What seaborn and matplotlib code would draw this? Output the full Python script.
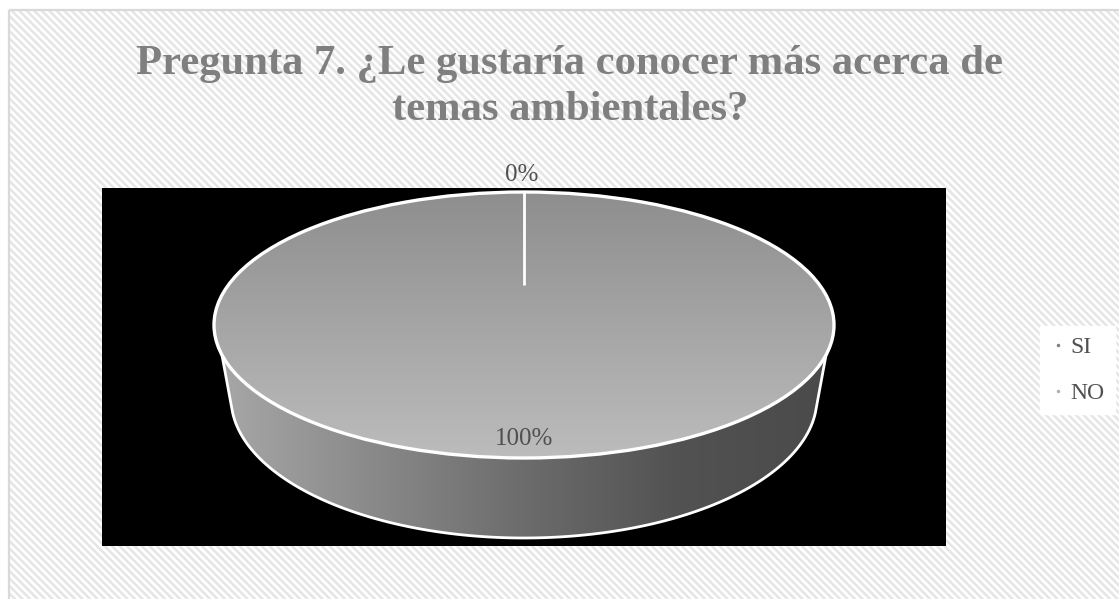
import numpy as np
import matplotlib
matplotlib.use("Agg")
import matplotlib.pyplot as plt
from matplotlib.lines import Line2D
from matplotlib.patches import Polygon, Rectangle
import seaborn as sns

# data
categories = ["SI", "NO"]
values = [100, 0]
pct_labels = ["100%", "0%"]
title = "Pregunta 7. ¿Le gustaría conocer más acerca de\ntemas ambientales?"

W, H = 1119, 599
sns.set_theme(style="white")
plt.rcParams["font.family"] = ["Liberation Serif", "DejaVu Serif"]

fig = plt.figure(figsize=(W / 100, H / 100), dpi=100, facecolor="white")


def px_axes(x0, y0, x1, y1):
    return fig.add_axes([x0 / W, 1 - y1 / H, (x1 - x0) / W, (y1 - y0) / H])


# background panel with the diagonal stripes
bg = px_axes(0, 0, W, H)
bg.set_xlim(0, W)
bg.set_ylim(H, 0)
bg.axis("off")
panel = Rectangle((9, 10), W + 20, H + 20, facecolor="none", edgecolor="#d9d9d9", linewidth=1.6, zorder=2)
bg.add_patch(panel)
for k in np.arange(-H, W, 7.5):
    stripe, = bg.plot([k, k + H], [0, H], color="#e6e6e6", linewidth=1.9, zorder=1)
    stripe.set_clip_path(panel)

fig.text(570 / W, 1 - 87 / H, title, ha="center", va="center", fontsize=30.7, fontweight="bold",
         color="#7f7f7f", linespacing=1.3)

# plot area, black, pie ellipse is the unit circle stretched
cx, cy, rx, ry = 524, 325, 310, 133
ax = px_axes(102, 188, 946, 546)
ax.set_facecolor("black")
wedges, _ = ax.pie(values, startangle=90, counterclock=False, radius=1, frame=True,
                   colors=sns.color_palette("gray", 2),
                   wedgeprops=dict(edgecolor="white", linewidth=2.4, zorder=5))
ax.set_aspect("auto")
x_lim = ((102 - cx) / rx, (946 - cx) / rx)
y_lim = ((cy - 546) / ry, (cy - 188) / ry)
ax.set_xticks([])
ax.set_yticks([])
for s in ax.spines.values():
    s.set_visible(False)

# side of the disc, lower ellipse a bit smaller (perspective)
low_y = -(398 - cy) / ry
low_ry = 140 / ry
low_rx = 293 / rx
t = np.radians(np.linspace(186, 354, 120))
lower = np.column_stack([low_rx * np.cos(t), low_y + low_ry * np.sin(t)])
a = np.radians(13)
side_pts = np.vstack([[[-np.cos(a), -np.sin(a)]], lower, [[np.cos(a), -np.sin(a)]]])
side = Polygon(side_pts, closed=True, facecolor="none", edgecolor="white", linewidth=2, zorder=3)
ax.add_patch(side)
side_grad = np.linspace(0, 1, 256).reshape(1, -1)
side_cmap = sns.blend_palette(["#a8a8a8", "#8a8a8a", "#6c6c6c", "#525252", "#4a4a4a"], as_cmap=True)
im = ax.imshow(side_grad, extent=(-1, 1, -2, 1), cmap=side_cmap, aspect="auto", zorder=2)
im.set_clip_path(side)

# top of the disc, vertical gradient clipped on the pie wedge
top = wedges[0]
top.set_facecolor("none")
top_grad = np.linspace(0, 1, 256).reshape(-1, 1)
im2 = ax.imshow(top_grad, extent=(-1, 1, -1, 1), cmap=sns.blend_palette(["#8e8e8e", "#bcbcbc"], as_cmap=True),
                aspect="auto", zorder=4, origin="upper")
im2.set_clip_path(top)
ax.set_xlim(*x_lim)
ax.set_ylim(*y_lim)

# the 0% slice is only a short white line
wedges[1].set_visible(False)
ax.plot([0, 0], [1, 0.3], color="white", linewidth=2, zorder=6, solid_capstyle="butt")

ax.text(0, (cy - 439) / ry, pct_labels[0], ha="center", va="center", fontsize=18, color="#505050", zorder=7)
fig.text(522 / W, 1 - 175 / H, pct_labels[1], ha="center", va="center", fontsize=18, color="#505050")

# legend
handles = [Line2D([], [], linestyle="none", marker="o", markersize=1.5, color=c)
           for c in ["#808080", "#b0b0b0"]]
leg = fig.legend(handles, categories, loc="upper left", bbox_to_anchor=(1040 / W, 1 - 326 / H),
                 fontsize=17, frameon=True, facecolor="white", edgecolor="white", framealpha=1,
                 labelcolor="#505050", handlelength=0.6, handletextpad=0.24, labelspacing=1.02,
                 borderaxespad=0, borderpad=0.45, fancybox=False)

fig.savefig("out.png", dpi=100)
